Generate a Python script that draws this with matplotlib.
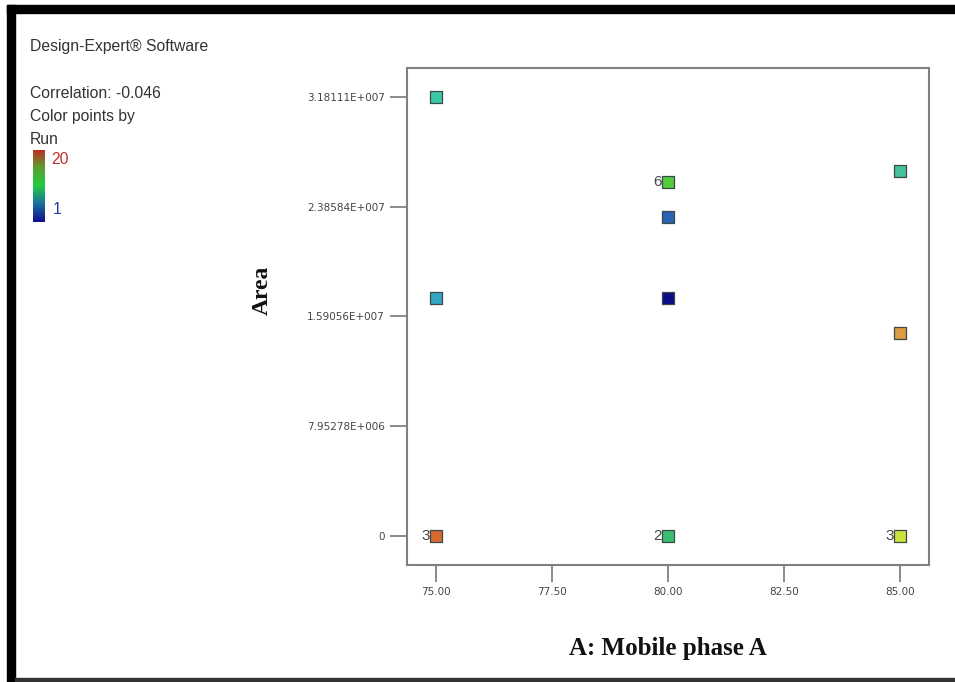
import numpy as np
import matplotlib
matplotlib.use("Agg")
import matplotlib.pyplot as plt
from matplotlib.colors import LinearSegmentedColormap
from matplotlib.patches import Rectangle

# data
mobile_a = [75, 75, 75, 80, 80, 80, 80, 85, 85, 85]
area = [3.18111e7, 1.728e7, 0, 2.567e7, 2.314e7, 1.721e7, 0, 2.646e7, 1.468e7, 0]
point_colors = ["#3ccaa6", "#33a6c4", "#d86a30", "#52cc3a", "#2a62b4",
                "#0c0c88", "#38c070", "#44c09c", "#dc9c44", "#cce23c"]
counts = ["", "", "3", "6", "", "", "2", "", "", "3"]
yticks = [0, 7.95278e6, 1.59056e7, 2.38584e7, 3.18111e7]
ytick_labels = ["0", "7.95278E+006", "1.59056E+007", "2.38584E+007", "3.18111E+007"]
xticks = [75, 77.5, 80, 82.5, 85]
xtick_labels = ["75.00", "77.50", "80.00", "82.50", "85.00"]

W, H = 955, 682
fig = plt.figure(figsize=(W / 100, H / 100), dpi=100)
fig.patch.set_facecolor("white")

# black frame around the picture
def px_rect(x0, y0, x1, y1, color):
    fig.patches.append(Rectangle((x0 / W, 1 - y1 / H), (x1 - x0) / W, (y1 - y0) / H,
                                 transform=fig.transFigure, color=color, zorder=10))

px_rect(7, 5, 955, 13, "black")
px_rect(7, 5, 15, 682, "black")
px_rect(15, 678, 955, 681, "#333333")

ax = fig.add_axes([407 / W, 1 - 565 / H, (929 - 407) / W, (565 - 68) / H])
ax.set_xlim(74.375, 85.625)
ax.set_ylim(-2.097e6, 3.3908e7)

for x, y, c, n in zip(mobile_a, area, point_colors, counts):
    ax.scatter(x, y, s=80, marker="s", c=c, edgecolors="#3a4a4a", linewidths=0.9, zorder=3)
    if n:
        ax.text(x - 0.14, y, n, ha="right", va="center", fontsize=11,
                color="#444444", family="Liberation Sans")

ax.set_xticks(xticks)
ax.set_xticklabels(xtick_labels)
ax.set_yticks(yticks)
ax.set_yticklabels(ytick_labels)
ax.tick_params(axis="both", direction="out", length=12, width=1.2, color="#777777",
               labelcolor="#444444", labelsize=7.5, pad=4)
for sp in ax.spines.values():
    sp.set_color("#808080")
    sp.set_linewidth(1.5)

fig.text(668 / W, 1 - 649 / H, "A: Mobile phase A", ha="center", va="center",
         fontsize=18, fontweight="bold", family="Liberation Serif", color="#111111")
fig.text(262 / W, 1 - 290 / H, "Area", ha="center", va="center", rotation=90,
         fontsize=17, fontweight="bold", family="Liberation Serif", color="#111111")

# legend text on the left
legend_lines = [("Design-Expert\u00ae Software", 47), ("Correlation: -0.046", 93),
                ("Color points by", 116), ("Run", 139)]
for txt, ypx in legend_lines:
    fig.text(30 / W, 1 - ypx / H, txt, ha="left", va="center",
             fontsize=11.3, family="Liberation Sans", color="#333333")

run_cmap = LinearSegmentedColormap.from_list(
    "run", ["#10108c", "#1a70a0", "#22cc40", "#5aa030", "#c02a20"])
cax = fig.add_axes([33 / W, 1 - 222 / H, 12 / W, 72 / H])
cax.imshow(np.linspace(1, 0, 100).reshape(-1, 1), aspect="auto", cmap=run_cmap)
cax.set_axis_off()
fig.text(51 / W, 1 - 160 / H, "20", ha="left", va="center", fontsize=11.3,
         family="Liberation Sans", color="#c03030")
fig.text(53 / W, 1 - 210 / H, "1", ha="left", va="center", fontsize=11.3,
         family="Liberation Sans", color="#2040a0")

fig.savefig("out.png", dpi=100, facecolor="white")
